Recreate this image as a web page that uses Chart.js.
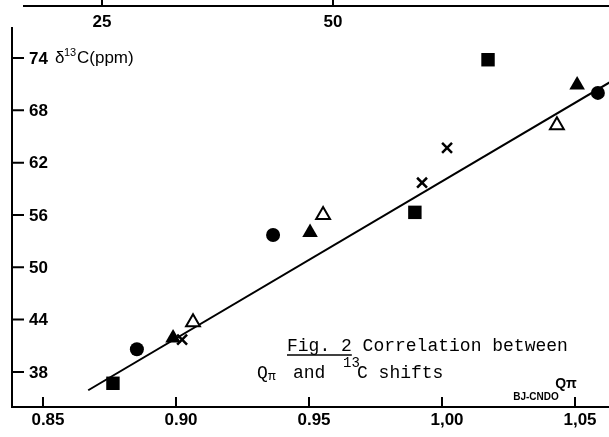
<!DOCTYPE html>
<html>
<head>
<meta charset="utf-8">
<title>Fig. 2</title>
<script src="https://cdn.jsdelivr.net/npm/chart.js@4"></script>
<style>
  html, body { margin: 0; padding: 0; background: #fff; }
  canvas { display: block; }
</style>
</head>
<body>
<canvas id="grafico" width="609" height="437"></canvas>
<script>
// Valores (Q pi vs desplazamiento 13C)
const cuadradoX = [0.8763, 0.9898, 1.0173];
const cuadradoY = [36.7, 56.3, 73.8];
const circuloX = [0.8853, 0.9365, 1.0586];
const circuloY = [40.6, 53.7, 70.0];
const trianguloX = [0.8989, 0.9504, 1.0508];
const trianguloY = [41.9, 54.0, 70.9];
const trianguloAbiertoX = [0.9064, 0.9553, 1.0432];
const trianguloAbiertoY = [43.7, 56.0, 66.3];
const cruzX = [0.9023, 0.9925, 1.0019];
const cruzY = [41.7, 59.7, 63.7];
const rectaX = [0.867, 1.063];
const rectaY = [35.9, 71.2];

// Marcas de los ejes
const ticksX = [0.85, 0.90, 0.95, 1.00, 1.05];
const etiquetasX = ['0.85', '0.90', '0.95', '1,00', '1,05'];
const ticksY = [38, 44, 50, 56, 62, 68, 74];
const ticksArriba = [25, 50];

const fuenteMano = '"Liberation Sans", sans-serif';
const fuenteMaquina = '"Liberation Mono", monospace';

function pares(xs, ys) {
    return xs.map((x, i) => ({ x: x, y: ys[i] }));
}

// Ejes, etiquetas y texto del pie de figura
const dibujoEjes = {
    id: 'dibujoEjes',
    afterDatasetsDraw(chart) {
        const { ctx, chartArea, scales } = chart;
        const sx = scales.x;
        const sy = scales.y;
        const sx2 = scales.x2;

        ctx.save();
        ctx.strokeStyle = '#000';
        ctx.fillStyle = '#000';
        ctx.lineWidth = 2;

        // Eje superior (25, 50)
        ctx.beginPath();
        ctx.moveTo(23, 6);
        ctx.lineTo(chart.width, 6);
        ticksArriba.forEach(v => {
            const px = sx2.getPixelForValue(v);
            ctx.moveTo(px, 0);
            ctx.lineTo(px, 6);
        });
        ctx.stroke();
        ctx.font = 'bold 17px ' + fuenteMano;
        ctx.textAlign = 'center';
        ctx.textBaseline = 'middle';
        ticksArriba.forEach(v => {
            ctx.fillText(String(v), sx2.getPixelForValue(v), 22);
        });

        // Marcas del eje y
        ctx.beginPath();
        ticksY.forEach(v => {
            const py = sy.getPixelForValue(v);
            ctx.moveTo(chartArea.left, py);
            ctx.lineTo(chartArea.left + 12, py);
        });
        ctx.stroke();
        ctx.textAlign = 'left';
        ticksY.forEach(v => {
            ctx.fillText(String(v), chartArea.left + 17, sy.getPixelForValue(v) + 1);
        });

        // Marcas del eje x
        ctx.beginPath();
        ticksX.forEach(v => {
            const px = sx.getPixelForValue(v);
            ctx.moveTo(px, chartArea.bottom);
            ctx.lineTo(px, chartArea.bottom - 10);
        });
        ctx.stroke();
        ctx.textAlign = 'center';
        ticksX.forEach((v, i) => {
            ctx.fillText(etiquetasX[i], sx.getPixelForValue(v) + 5, chartArea.bottom + 13);
        });

        // Título del eje y
        ctx.textAlign = 'left';
        ctx.font = '17px ' + fuenteMano;
        ctx.fillText('δ', 55, 58);
        ctx.font = '11px ' + fuenteMano;
        ctx.fillText('13', 64, 53);
        ctx.font = '17px ' + fuenteMano;
        ctx.fillText('C(ppm)', 77, 58);

        // Título del eje x
        ctx.textAlign = 'center';
        ctx.font = 'bold 14px ' + fuenteMano;
        ctx.fillText('Qπ', 566, 384);
        ctx.font = 'bold 10px ' + fuenteMano;
        ctx.fillText('BJ-CNDO', 536, 397);

        // Pie de figura
        ctx.textAlign = 'left';
        ctx.textBaseline = 'alphabetic';
        ctx.font = '18px ' + fuenteMaquina;
        ctx.fillText('Fig. 2 Correlation between', 287, 351);
        const anchoFig = ctx.measureText('Fig. 2').width;
        ctx.lineWidth = 1.5;
        ctx.beginPath();
        ctx.moveTo(287, 355);
        ctx.lineTo(287 + anchoFig, 355);
        ctx.stroke();

        ctx.fillText('Q', 257, 378);
        ctx.font = '13px ' + fuenteMaquina;
        ctx.fillText('π', 268, 380);
        ctx.font = '18px ' + fuenteMaquina;
        ctx.fillText('and', 293, 378);
        ctx.font = '14px ' + fuenteMaquina;
        ctx.fillText('13', 343, 367);
        ctx.font = '18px ' + fuenteMaquina;
        ctx.fillText('C shifts', 357, 378);

        ctx.restore();
    }
};

const ctx = document.getElementById('grafico').getContext('2d');

new Chart(ctx, {
    type: 'scatter',
    data: {
        datasets: [
            {
                label: 'cuadrado',
                data: pares(cuadradoX, cuadradoY),
                pointStyle: 'rect',
                pointRadius: 9.5,
                backgroundColor: '#000',
                borderColor: '#000',
                borderWidth: 0
            },
            {
                label: 'circulo',
                data: pares(circuloX, circuloY),
                pointStyle: 'circle',
                pointRadius: 7,
                backgroundColor: '#000',
                borderColor: '#000',
                borderWidth: 0
            },
            {
                label: 'triangulo',
                data: pares(trianguloX, trianguloY),
                pointStyle: 'triangle',
                pointRadius: 9,
                backgroundColor: '#000',
                borderColor: '#000',
                borderWidth: 0
            },
            {
                label: 'triangulo abierto',
                data: pares(trianguloAbiertoX, trianguloAbiertoY),
                pointStyle: 'triangle',
                pointRadius: 8,
                backgroundColor: '#fff',
                borderColor: '#000',
                borderWidth: 2
            },
            {
                label: 'cruz',
                data: pares(cruzX, cruzY),
                pointStyle: 'crossRot',
                pointRadius: 7,
                borderColor: '#000',
                borderWidth: 2.5
            },
            {
                label: 'recta',
                data: pares(rectaX, rectaY),
                showLine: true,
                borderColor: '#000',
                borderWidth: 2,
                pointRadius: 0
            }
        ]
    },
    options: {
        responsive: false,
        animation: false,
        devicePixelRatio: 1,
        layout: {
            autoPadding: false,
            padding: { left: 12, right: 0, top: 28, bottom: 30 }
        },
        scales: {
            x: {
                type: 'linear',
                min: 0.83835,
                max: 1.06278,
                grid: { display: false, drawTicks: false },
                ticks: { display: false },
                border: { display: true, color: '#000', width: 2 }
            },
            x2: {
                type: 'linear',
                axis: 'x',
                position: 'top',
                display: false,
                min: 15.26,
                max: 79.87
            },
            y: {
                type: 'linear',
                min: 33.98,
                max: 77.44,
                grid: { display: false, drawTicks: false },
                ticks: { display: false },
                border: { display: true, color: '#000', width: 2 }
            }
        },
        plugins: {
            legend: { display: false },
            tooltip: { enabled: false }
        }
    },
    plugins: [dibujoEjes]
});
</script>
</body>
</html>
